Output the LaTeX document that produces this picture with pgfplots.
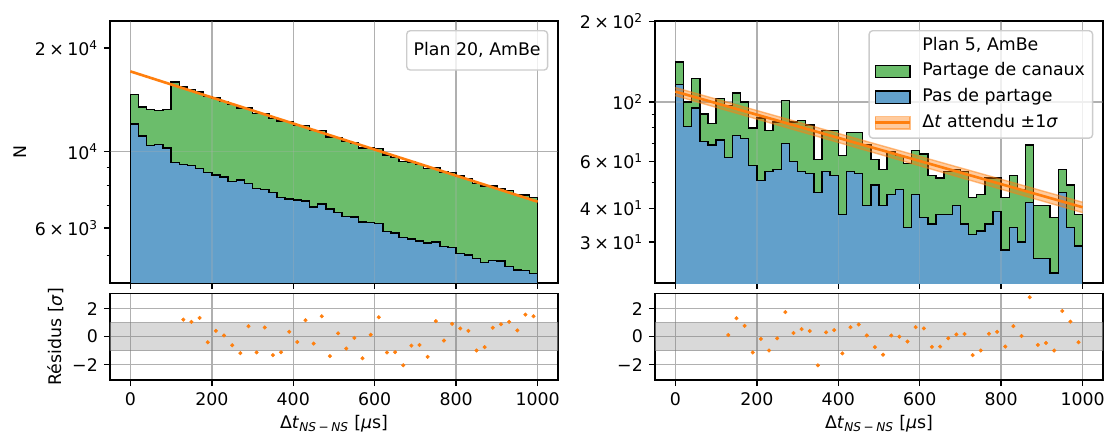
\documentclass[border=0pt]{standalone}
\usepackage{fontspec}
\setmainfont{DejaVu Sans}
\usepackage{pgfplots}
\usepackage{pgfplotstable}
\pgfplotsset{compat=1.18}
\definecolor{tabblue}{HTML}{1F77B4}
\definecolor{tabgreen}{HTML}{2CA02C}
\definecolor{taborange}{HTML}{FF7F0E}
\definecolor{gridgray}{HTML}{B0B0B0}
\colorlet{greenfill}{tabgreen!70!white}
\colorlet{bluefill}{tabblue!70!white}

\pgfplotstableread{
x y
0 14641
20 13463
40 13231
60 13187
80 13258
100 15925
120 15423
140 15139
160 14913
180 14448
200 14296
220 14011
240 13687
260 13385
280 13375
300 12930
320 12909
340 12465
360 12271
380 12221
400 11930
420 11893
440 11510
460 11519
480 11020
500 11000
520 10698
540 10590
560 10259
580 10251
600 10200
620 9775
640 9608
660 9349
680 9323
700 9166
720 8927
740 9013
760 8728
780 8688
800 8509
820 8347
840 8077
860 7958
880 7944
900 7829
920 7710
940 7525
960 7492
980 7354
1000 7354
}\lefttot

\pgfplotstableread{
x y
0 12044
20 11110
40 10432
60 10481
80 10252
100 9289
120 9165
140 9103
160 8922
180 8685
200 8569
220 8455
240 8204
260 8287
280 8083
300 7816
320 7764
340 7630
360 7358
380 7295
400 7244
420 7197
440 6913
460 7054
480 6812
500 6663
520 6499
540 6464
560 6251
580 6222
600 6180
620 5872
640 5813
660 5640
680 5587
700 5501
720 5429
740 5476
760 5319
780 5276
800 5065
820 5018
840 4898
860 4778
880 4836
900 4817
920 4651
940 4534
960 4519
980 4429
1000 4429
}\leftblue

\pgfplotstableread{
x y
0 141
20 100
40 122
60 90
80 83
100 103
120 97
140 108
160 100
180 80
200 87
220 78
240 84
260 101
280 84
300 85
320 82
340 61
360 78
380 78
400 63
420 77
440 77
460 69
480 61
500 56
520 65
540 63
560 59
580 66
600 64
620 53
640 52
660 55
680 56
700 55
720 44
740 45
760 52
780 52
800 44
820 53
840 47
860 69
880 41
900 41
920 37
940 56
960 49
980 38
1000 38
}\righttot

\pgfplotstableread{
x y
0 116
20 81
40 95
60 71
80 69
100 72
120 62
140 75
160 73
180 58
200 51
220 55
240 56
260 70
280 60
300 55
320 54
340 46
360 55
380 53
400 38
420 55
440 54
460 41
480 49
500 41
520 45
540 47
560 34
580 45
600 37
620 35
640 38
660 38
680 41
700 35
720 32
740 33
760 35
780 39
800 28
820 34
840 30
860 42
880 26
900 26
920 23
940 46
960 34
980 29
1000 29
}\rightblue

\pgfplotstableread{
x r
130 1.22
150 1.06
170 1.34
190 -0.40
210 0.42
230 0.09
250 -0.61
270 -1.18
290 0.75
310 -1.13
330 0.66
350 -1.32
370 -1.11
390 0.35
410 -0.38
430 1.18
450 -0.49
470 1.46
490 -1.39
510 0.24
530 -0.85
550 -0.09
570 -1.55
590 0.14
610 1.39
630 -1.13
650 -1.11
670 -2.05
690 -0.64
710 -0.59
730 -1.44
750 1.11
770 -0.28
790 0.92
810 0.59
830 0.42
850 -0.99
870 -0.75
890 0.64
910 0.89
930 1.06
950 0.45
970 1.58
990 1.46
}\leftres

\pgfplotstableread{
x r
130 0.12
150 1.32
170 0.78
190 -1.13
210 -0.16
230 -0.99
250 -0.12
270 1.76
290 0.26
310 0.54
330 0.40
350 -2.05
370 0.31
390 0.47
410 -1.20
430 0.68
450 0.87
470 0.09
490 -0.75
510 -1.29
530 0.09
550 0.00
570 -0.35
590 0.68
610 0.59
630 -0.73
650 -0.71
670 -0.12
690 0.16
710 0.19
730 -1.32
750 -0.99
770 0.21
790 0.35
810 -0.71
830 0.75
850 0.05
870 2.82
890 -0.59
910 -0.45
930 -0.99
950 1.84
970 1.08
990 -0.40
}\rightres

\pgfplotsset{
  common/.style={
    scale only axis, width=322.56pt,
    xmin=-50, xmax=1050, xtick={0,200,400,600,800,1000},
    tick align=outside, tick pos=left,
    axis line style={line width=1pt},
    major tick length=4.4pt, minor tick length=2.5pt,
    every tick/.style={black, line width=1pt},
    minor tick style={line width=0.75pt},
    xmajorgrids, ymajorgrids,
    grid style={gridgray, line width=1pt},
    /pgf/number format/assume math mode=true,
    /pgf/number format/1000 sep={},
  },
  edge/.style={const plot, draw=black, line width=1pt, mark=none},
  res/.style={only marks, mark=*, mark size=1.25pt, taborange, mark options={draw=none, fill=taborange}},
  band/.style={draw=gray, draw opacity=0.6, fill=gray, fill opacity=0.3, line width=1pt},
}

\begin{document}
\fontsize{12.5pt}{15pt}\selectfont
\begin{tikzpicture}[font=\fontsize{12.5pt}{15pt}\selectfont]
\path[use as bounding box] (0,0) rectangle (794.88pt,-311.76pt);

% ---------------- left top
\begin{axis}[common, at={(79.2pt,-15.12pt)}, anchor=north west, height=188.64pt,
  ymode=log, ymin=4160, ymax=23940,
  ytick={10000}, yticklabels={10\textsuperscript{4}},
  minor ytick={5000,7000,8000,9000},
  extra y ticks={6000,20000},
  extra y tick labels={6\hspace{2.5pt}×\hspace{2.5pt}10\textsuperscript{3},2\hspace{2.5pt}×\hspace{2.5pt}10\textsuperscript{4}},
  extra y tick style={grid=none},
  xticklabels={},
  ylabel={N}, ylabel style={at={(axis description cs:-0.201,0.5)}, anchor=center},
]
\addplot[const plot, fill=greenfill, draw=none, forget plot] table[x=x,y=y] {\lefttot} \closedcycle;
\addplot[const plot, fill=bluefill, draw=none, forget plot] table[x=x,y=y] {\leftblue} \closedcycle;
\pgfplotsinvokeforeach{0,200,400,600,800,1000}{
  \draw[gridgray, line width=1pt, opacity=0.3] (axis cs:#1,4160) -- (axis cs:#1,23940);}
\draw[gridgray, line width=1pt, opacity=0.3] (axis cs:-50,10000) -- (axis cs:1050,10000);
\addplot[edge, forget plot] table[x=x,y=y] {\lefttot} \closedcycle;
\addplot[edge, forget plot] table[x=x,y=y] {\leftblue} \closedcycle;
\addplot[taborange, line width=1.9pt, forget plot] coordinates {(0,17100) (1000,7161)};
\node[draw=black!20, line width=1pt, rounded corners=2.5pt, fill=white, fill opacity=0.8, text opacity=1,
  anchor=north east, inner xsep=5pt, minimum height=28.3pt, xshift=-7pt, yshift=-6.5pt] at (rel axis cs:1,1) {Plan 20, AmBe};
\end{axis}

% ---------------- left bottom
\begin{axis}[common, at={(79.2pt,-211.2pt)}, anchor=north west, height=62.4pt,
  ymin=-3.1, ymax=3.1, ytick={-2,0,2}, yticklabels={−2,0,2},
  xlabel={Δ\textit{t}\textsubscript{\textit{NS}\hspace{1.8pt}−\hspace{1.8pt}\textit{NS}} [\textit{μ}s]},
  xlabel style={at={(axis description cs:0.5,-0.56)}, anchor=base},
  ylabel={Résidus [\textit{σ}]}, ylabel style={at={(axis description cs:-0.1205,0.5)}, anchor=center},
]
\addplot[band] coordinates {(-50,-1) (1050,-1) (1050,1) (-50,1) (-50,-1)};
\addplot[res] table[x=x,y=r] {\leftres};
\end{axis}

% ---------------- right top
\begin{axis}[common, at={(471.6pt,-15.12pt)}, anchor=north west, height=188.64pt,
  ymode=log, ymin=21.07, ymax=200.5,
  ytick={100}, yticklabels={10\textsuperscript{2}},
  minor ytick={50,70,80,90},
  extra y ticks={30,40,60,200},
  extra y tick labels={3\hspace{2.5pt}×\hspace{2.5pt}10\textsuperscript{1},4\hspace{2.5pt}×\hspace{2.5pt}10\textsuperscript{1},6\hspace{2.5pt}×\hspace{2.5pt}10\textsuperscript{1},2\hspace{2.5pt}×\hspace{2.5pt}10\textsuperscript{2}},
  extra y tick style={grid=none},
  xticklabels={},
  legend cell align=left,
  legend style={at={(1,1)}, anchor=north east, xshift=-7pt, yshift=-6.5pt,
    draw=black!20, line width=1pt, rounded corners=2.5pt, fill=white, fill opacity=0.8, text opacity=1,
    inner xsep=3.5pt, inner ysep=2.8pt, row sep=1.9pt, column sep=6pt,
    nodes={inner sep=2pt, text height=0.75em, text depth=0.25em}},
]
\addplot[const plot, fill=greenfill, draw=none, forget plot] table[x=x,y=y] {\righttot} \closedcycle;
\addplot[const plot, fill=bluefill, draw=none, forget plot] table[x=x,y=y] {\rightblue} \closedcycle;
\pgfplotsinvokeforeach{0,200,400,600,800,1000}{
  \draw[gridgray, line width=1pt, opacity=0.3] (axis cs:#1,21.07) -- (axis cs:#1,200.5);}
\draw[gridgray, line width=1pt, opacity=0.3] (axis cs:-50,100) -- (axis cs:1050,100);
\addplot[edge, forget plot] table[x=x,y=y] {\righttot} \closedcycle;
\addplot[edge, forget plot] table[x=x,y=y] {\rightblue} \closedcycle;
\addplot[fill=taborange, fill opacity=0.4, draw=none, forget plot] coordinates {(0,113.1) (1000,42.2) (1000,38.6) (0,105.5)};
\addplot[taborange, draw opacity=0.5, line width=1pt, forget plot] coordinates {(0,113.1) (1000,42.2)};
\addplot[taborange, draw opacity=0.5, line width=1pt, forget plot] coordinates {(0,105.5) (1000,38.6)};
\addplot[taborange, line width=1.9pt, forget plot] coordinates {(0,109.3) (1000,40.41)};
\addlegendimage{empty legend}
\addlegendentry{Plan 5, AmBe}
\addlegendimage{legend image code/.code={\draw[sharp corners, fill=greenfill, fill opacity=1, draw=black, line width=1pt] (0pt,-4.4pt) rectangle (25pt,4.4pt);}}
\addlegendentry{Partage de canaux}
\addlegendimage{legend image code/.code={\draw[sharp corners, fill=bluefill, fill opacity=1, draw=black, line width=1pt] (0pt,-4.4pt) rectangle (25pt,4.4pt);}}
\addlegendentry{Pas de partage}
\addlegendimage{legend image code/.code={\draw[sharp corners, fill=taborange, fill opacity=0.4, draw=taborange, draw opacity=0.5, line width=1pt] (0pt,-4.4pt) rectangle (25pt,4.4pt); \draw[taborange, line width=1.9pt] (0pt,0pt) -- (25pt,0pt);}}
\addlegendentry{Δ\textit{t} attendu ±1\textit{σ}}
\end{axis}

% ---------------- right bottom
\begin{axis}[common, at={(471.6pt,-211.2pt)}, anchor=north west, height=62.4pt,
  ymin=-3.1, ymax=3.1, ytick={-2,0,2}, yticklabels={−2,0,2},
  xlabel={Δ\textit{t}\textsubscript{\textit{NS}\hspace{1.8pt}−\hspace{1.8pt}\textit{NS}} [\textit{μ}s]},
  xlabel style={at={(axis description cs:0.5,-0.56)}, anchor=base},
]
\addplot[band] coordinates {(-50,-1) (1050,-1) (1050,1) (-50,1) (-50,-1)};
\addplot[res] table[x=x,y=r] {\rightres};
\end{axis}
\end{tikzpicture}
\end{document}
